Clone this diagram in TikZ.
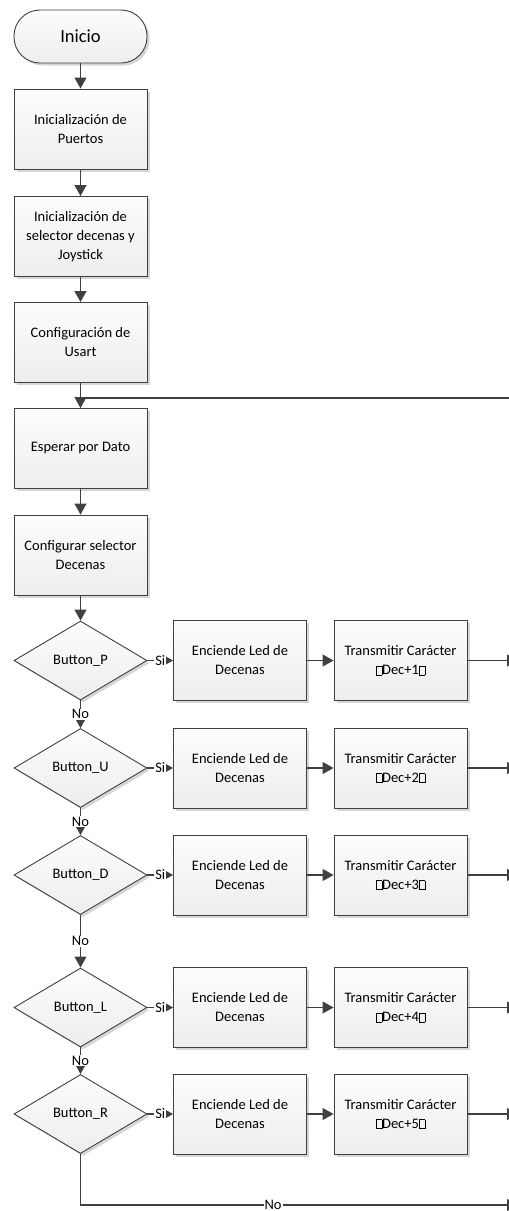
\documentclass[tikz,border=0pt]{standalone}
\usepackage{fontspec}
\setmainfont{Carlito}
\usetikzlibrary{shapes.geometric,shadows,arrows.meta}
\definecolor{edge}{HTML}{404040}
% small empty glyph box used around the transmitted value
\newcommand{\qbx}{{\fboxsep=0pt\fboxrule=0.4pt\fbox{\rule{0pt}{8.5pt}\hspace{5.5pt}}}}
\begin{document}
\begin{tikzpicture}[x=1pt,y=-1pt,
  every node/.style={font=\fontsize{14.5}{19}\selectfont, align=center, text=black},
  shadebox/.style={draw=edge, line width=0.9pt, top color=gray!2, bottom color=gray!14,
    drop shadow={shadow xshift=2.5pt, shadow yshift=-2.5pt, fill=gray!40, opacity=0.8}},
  proc/.style={shadebox, rectangle, minimum width=133pt, minimum height=80pt, inner sep=2pt},
  term/.style={shadebox, rectangle, rounded corners=26pt, minimum width=133pt,
    minimum height=53pt, font=\fontsize{18.5}{22}\selectfont},
  dec/.style={shadebox, diamond, minimum width=133pt, minimum height=79pt, inner sep=0pt},
  flow/.style={draw=edge, line width=1.1pt, -{Triangle[length=11pt,width=12pt]}},
  plain/.style={draw=edge, line width=1.1pt},
  lbl/.style={fill=white, inner sep=1pt, font=\fontsize{14.5}{16}\selectfont},
]
\useasboundingbox (0,0) rectangle (509,1211);

% main sequence
\node[term] (ini) at (80.5,36.5) {Inicio};
\node[proc] (p1) at (80.5,129) {Inicialización de\\Puertos};
\node[proc] (p2) at (80.5,236.5) {Inicialización de\\selector decenas y\\Joystick};
\node[proc] (p3) at (80.5,342.5) {Configuración de\\Usart};
\node[proc] (p4) at (80.5,448.5) {Esperar por Dato};
\node[proc] (p5) at (80.5,555) {Configurar selector\\Decenas};

\draw[flow] (ini) -- (p1);
\draw[flow] (p1) -- (p2);
\draw[flow] (p2) -- (p3);
\draw[flow] (p3) -- (p4);
\draw[flow] (p4) -- (p5);

% return line into the wait loop
\coordinate (jn) at (80.5,398);
\coordinate (lp) at (513,398);
\draw[plain] (lp) -- (jn);

% joystick decisions
\foreach \i/\y/\b in {1/660.5/P, 2/768/U, 3/875/D, 4/1007.5/L, 5/1114/R} {
  \node[dec] (d\i) at (80.5,\y) {Button\_\b};
  \node[proc] (a\i) at (240,\y) {Enciende Led de\\Decenas};
  \node[proc] (t\i) at (400.5,\y) {Transmitir Carácter\\\qbx Dec+\i\qbx};
  \coordinate (o\i) at (518,\y);
  \draw[flow] (d\i.east) -- node[lbl]{Si} (a\i.west);
  \draw[flow] (a\i) -- (t\i);
  \draw[flow] (t\i) -- (o\i);
}

\draw[flow] (p5) -- (d1);
\draw[flow] (d1.south) -- node[lbl]{No} (d2.north);
\draw[flow] (d2.south) -- node[lbl]{No} (d3.north);
\draw[flow] (d3.south) -- node[lbl]{No} (d4.north);
\draw[flow] (d4.south) -- node[lbl]{No} (d5.north);

\coordinate (bl) at (80.5,1205);
\coordinate (br) at (518,1205);
\draw[flow] (d5.south) -- (bl) -- node[lbl,pos=0.44]{No} (br);
\end{tikzpicture}
\end{document}
